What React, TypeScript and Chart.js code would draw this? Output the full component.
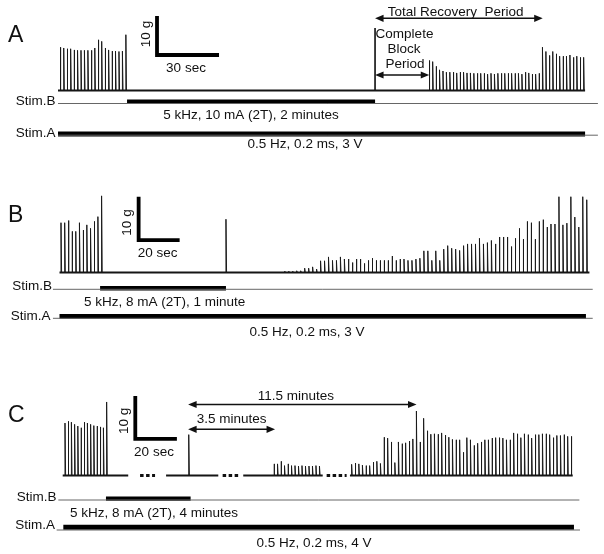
import { useEffect, useRef } from "react";
import { Chart, registerables } from "chart.js";
Chart.register(...registerables);

const W = 604;
const H = 554;

// ---------------- Panel A (time in s, force in g) ----------------
const A_BASELINE = [[0, 255]];
const A_PRE_START = 1.1;
const A_PRE_INTERVAL = 1.67;
const A_PRE_AMPS = [11.1, 10.9, 10.7, 10.7, 10.4, 10.3, 10.3, 10.3, 10.3, 10.3, 10.9, 13.0, 12.6, 10.9, 10.4, 10.1, 10.1, 10.0, 10.1, 14.3];
const A_REC_START = 179.6;
const A_REC_INTERVAL = 1.66;
const A_REC_AMPS = [7.7, 7.4, 6.2, 5.3, 5.0, 4.7, 4.7, 4.7, 4.5, 4.7, 4.7, 4.5, 4.5, 4.4, 4.4, 4.4, 4.4, 4.2, 4.4, 4.2, 4.4, 4.4, 4.4, 4.4, 4.4, 4.4, 4.4, 4.2, 4.7, 4.5, 4.2, 4.2, 4.4, 11.1, 10.0, 9.0, 10.0, 9.4, 8.8, 8.8, 8.8, 9.1, 8.5, 8.8, 8.5, 8.5];
const A_STIMB_ON = [33.4, 153.4];
const A_STIMB_LINE = [0, 261.2];
const A_STIMA_ON = [0, 255];
const A_STIMA_LINE = [0, 261.2];
const A_TOTAL_RECOVERY = [153.4, 234.5];
const A_COMPLETE_BLOCK = [153.4, 179.6];

// ---------------- Panel B ----------------
const B_BASELINE = [[0, 258.5]];
const B_PRE_START = 0.73;
const B_PRE_INTERVAL = 1.8;
const B_PRE_AMPS = [11.5, 11.5, 12.0, 9.5, 9.5, 11.5, 9.8, 11.0, 10.2, 11.8, 12.9, 17.7];
const B_SINGLE = [[81.2, 12.3]];
const B_REC_START = 109.9;
const B_REC_INTERVAL = 1.938;
const B_REC_AMPS = [
  0.3, 0.3, 0.3,
  0.4, 0.4, 1.0, 1.0, 1.3, 0.8, 2.7, 2.7, 3.6, 2.8, 2.8, 3.6, 3.1, 3.1, 2.3, 3.1, 3.1, 2.1, 2.8, 3.3, 2.8, 2.8, 2.8, 2.8, 3.8, 2.8, 3.1, 3.1, 2.8, 2.8, 3.1, 3.3, 5.0, 5.0, 2.8, 5.0, 2.8, 5.4,
  6.2, 5.6, 5.4, 5.1, 6.2, 6.6, 6.6, 6.6, 7.9, 6.6, 6.9, 7.4, 6.6, 8.2, 8.2, 8.2, 6.0, 7.9, 10.2, 7.7, 11.8, 11.5, 7.7, 11.8, 12.2, 10.5, 11.2, 11.2, 17.5, 11.0, 11.4, 17.5, 12.8, 10.5, 17.5, 16.8,
];
const B_STIMB_ON = [19.8, 81.2];
const B_STIMB_LINE = [-3.2, 260.1];
const B_STIMA_ON = [0, 256.8];
const B_STIMA_LINE = [-3.2, 260.1];

// ---------------- Panel C ----------------
const C_BASELINE = [[0, 31.5], [49.7, 74.8], [86.8, 125], [138.1, 245.2]];
const C_BREAKS = [[37.2, 44.4], [76.9, 85.2], [126.9, 136.5]];
const C_PRE_START = 1.1;
const C_PRE_INTERVAL = 1.54;
const C_PRE_AMPS = [12.2, 12.6, 12.4, 11.9, 11.5, 11.1, 12.4, 12.2, 11.9, 11.6, 11.5, 11.3, 11.1, 17.1];
const C_SINGLE = [[60.6, 9.5]];
const C_MID_START = 101.6;
const C_MID_INTERVAL = 1.68;
const C_MID_AMPS = [2.7, 2.7, 3.3, 2.3, 2.7, 2.3, 2.3, 2.2, 2.3, 2.2, 2.2, 2.2, 2.3, 2.2];
const C_REC_START = 138.9;
const C_REC_INTERVAL = 1.731;
const C_REC_AMPS = [
  2.6, 2.9, 2.7, 2.4, 2.3, 2.3, 3.1, 3.3, 2.8, 8.9, 8.7, 7.8, 3.0, 7.8, 7.4, 7.6, 8.0, 8.5, 15.0, 7.8,
  13.3, 10.4, 9.6, 9.7, 9.6, 9.9, 9.4, 8.9, 8.4, 8.3, 8.3, 5.4, 8.8, 8.3, 7.0, 7.5, 7.8, 8.3, 8.3, 8.7,
  8.8, 8.8, 8.7, 8.3, 8.3, 9.9, 9.7, 8.8, 9.7, 9.5, 8.7, 9.5, 9.5, 9.7, 9.7, 9.5, 8.8, 9.3, 9.3, 9.5,
  9.1, 9.1,
];
const C_STIMB_ON = [20.8, 61.5];
const C_STIMB_LINE = [-2.1, 248.4];
const C_STIMA_ON = [0.3, 245.8];
const C_STIMA_LINE = [-2.9, 248.7];
const C_LONG_ARROW = [60.3, 170.1];
const C_SHORT_ARROW = [60.3, 102.1];

// ---------------- Layout (pixels) ----------------
type Lay = { x0: number; pxs: number; base: number; pxg: number };
const LAYOUT: Record<string, Lay> = {
  A: { x0: 58, pxs: 2.067, base: 90.5, pxg: 3.9 },
  B: { x0: 59.5, pxs: 2.05, base: 272.5, pxg: 4.33 },
  C: { x0: 62.7, pxs: 2.08, base: 475.5, pxg: 4.3 },
};
const lvl = (p: string, py: number) => (LAYOUT[p].base - py) / LAYOUT[p].pxg;

const FONT = '"Liberation Sans", Arial, Helvetica, sans-serif';
const INK = "#111";

function train(start: number, interval: number, amps: number[]) {
  return amps.map((a, i) => [start + i * interval, a]);
}

const datasets: any[] = [];
function line(p: string, data: any[], width: number, color: string, dash: number[] = []) {
  datasets.push({
    data,
    xAxisID: "x" + p,
    yAxisID: "y" + p,
    borderColor: color,
    borderWidth: width,
    borderDash: dash,
    borderCapStyle: "butt",
    borderJoinStyle: "miter",
    pointRadius: 0,
    pointHoverRadius: 0,
    tension: 0,
    fill: false,
    spanGaps: false,
  });
}
function segs(list: number[][], y = 0) {
  const out: any[] = [];
  list.forEach(([a, b]) => {
    out.push({ x: a, y }, { x: b, y }, { x: b, y: null });
  });
  return out;
}
function spikeData(sp: number[][]) {
  const out: any[] = [];
  sp.forEach(([t, a]) => {
    out.push({ x: t, y: 0 }, { x: t, y: a }, { x: t + 0.3, y: 0 }, { x: t + 0.3, y: null });
  });
  return out;
}
function bar(p: string, span: number[], py: number, width: number, color: string) {
  const y = lvl(p, py);
  line(p, [{ x: span[0], y }, { x: span[1], y }], width, color);
}
function scaleBar(p: string, t0: number, v0: number, secs: number, grams: number) {
  line(p, [{ x: t0, y: v0 + grams }, { x: t0, y: v0 }, { x: t0 + secs, y: v0 }], 3.8, "#000");
}

// Panel A
line("A", segs(A_BASELINE), 2, "#151515");
line("A", spikeData([...train(A_PRE_START, A_PRE_INTERVAL, A_PRE_AMPS), ...train(A_REC_START, A_REC_INTERVAL, A_REC_AMPS)]), 1, "#1a1a1a");
bar("A", A_STIMB_LINE, 103.5, 1, "#666");
bar("A", A_STIMB_ON, 101.8, 4.5, "#000");
bar("A", A_STIMA_LINE, 135.2, 1, "#666");
bar("A", A_STIMA_ON, 134, 5, "#000");
scaleBar("A", 47.9, 9.1, 30, 10);
line("A", [{ x: A_TOTAL_RECOVERY[0], y: lvl("A", 28) }, { x: A_TOTAL_RECOVERY[0], y: 0 }], 1, "#222");

// Panel B
line("B", segs(B_BASELINE), 2, "#151515");
line("B", spikeData([...train(B_PRE_START, B_PRE_INTERVAL, B_PRE_AMPS), ...B_SINGLE, ...train(B_REC_START, B_REC_INTERVAL, B_REC_AMPS)]), 1, "#1a1a1a");
bar("B", B_STIMB_LINE, 289.3, 1, "#666");
bar("B", B_STIMB_ON, 288.3, 4.5, "#000");
bar("B", B_STIMA_LINE, 318.3, 1, "#666");
bar("B", B_STIMA_ON, 316.3, 4.8, "#000");
scaleBar("B", 38.6, 7.5, 20, 10);

// Panel C
line("C", segs(C_BASELINE), 2, "#151515");
line("C", segs(C_BREAKS), 3, "#111", [3.5, 2.5]);
line("C", spikeData([...train(C_PRE_START, C_PRE_INTERVAL, C_PRE_AMPS), ...C_SINGLE, ...train(C_MID_START, C_MID_INTERVAL, C_MID_AMPS), ...train(C_REC_START, C_REC_INTERVAL, C_REC_AMPS)]), 1, "#1a1a1a");
bar("C", C_STIMB_LINE, 500, 1, "#666");
bar("C", C_STIMB_ON, 498.7, 4.2, "#000");
bar("C", C_STIMA_LINE, 530, 1, "#666");
bar("C", C_STIMA_ON, 527.3, 5, "#000");
scaleBar("C", 34.9, 8.5, 20, 10);

const scales: any = {};
Object.keys(LAYOUT).forEach((p) => {
  const l = LAYOUT[p];
  const xmin = -l.x0 / l.pxs;
  const ymax = l.base / l.pxg;
  scales["x" + p] = { type: "linear", axis: "x", position: "bottom", display: false, min: xmin, max: xmin + W / l.pxs };
  scales["y" + p] = { type: "linear", axis: "y", position: "left", display: false, min: ymax - H / l.pxg, max: ymax };
});

type Txt = { s: string; x: number; y: number; f?: number; a?: CanvasTextAlign; rot?: boolean };
const TEXTS: Txt[] = [
  { s: "A", x: 8, y: 41.5, f: 23, a: "left" },
  { s: "10 g", x: 146, y: 34, rot: true },
  { s: "30 sec", x: 186, y: 71.7 },
  { s: "Stim.B", x: 55.5, y: 105, a: "right" },
  { s: "Stim.A", x: 55.5, y: 136.5, a: "right" },
  { s: "5 kHz, 10 mA (2T), 2 minutes", x: 251, y: 118.5 },
  { s: "0.5 Hz, 0.2 ms, 3 V", x: 305, y: 147.5 },
  { s: "Total Recovery  Period", x: 455.7, y: 16 },
  { s: "Complete", x: 404.5, y: 37.5 },
  { s: "Block", x: 404, y: 53 },
  { s: "Period", x: 405, y: 68 },

  { s: "B", x: 8, y: 221.7, f: 23, a: "left" },
  { s: "10 g", x: 127.5, y: 222.5, rot: true },
  { s: "20 sec", x: 157.7, y: 257 },
  { s: "Stim.B", x: 52, y: 290, a: "right" },
  { s: "Stim.A", x: 50.5, y: 320, a: "right" },
  { s: "5 kHz, 8 mA (2T), 1 minute", x: 164.7, y: 306 },
  { s: "0.5 Hz, 0.2 ms, 3 V", x: 307, y: 335.5 },

  { s: "C", x: 8, y: 421.5, f: 23, a: "left" },
  { s: "10 g", x: 124.2, y: 420.8, rot: true },
  { s: "20 sec", x: 154, y: 456 },
  { s: "Stim.B", x: 56.5, y: 501, a: "right" },
  { s: "Stim.A", x: 55, y: 529, a: "right" },
  { s: "5 kHz, 8 mA (2T), 4 minutes", x: 154, y: 516.5 },
  { s: "0.5 Hz, 0.2 ms, 4 V", x: 314, y: 546.5 },
  { s: "11.5 minutes", x: 295.8, y: 399.5 },
  { s: "3.5 minutes", x: 231.7, y: 423 },
];

const ARROWS = [
  { p: "A", span: A_TOTAL_RECOVERY, py: 18.3 },
  { p: "A", span: A_COMPLETE_BLOCK, py: 75 },
  { p: "C", span: C_LONG_ARROW, py: 404.5 },
  { p: "C", span: C_SHORT_ARROW, py: 429.3 },
];

const annotate = {
  id: "annotate",
  afterDatasetsDraw(chart: any) {
    const ctx = chart.ctx as CanvasRenderingContext2D;
    ctx.save();
    ctx.fillStyle = INK;
    ctx.strokeStyle = INK;
    ARROWS.forEach(({ p, span, py }) => {
      const sx = chart.scales["x" + p];
      const x0 = sx.getPixelForValue(span[0]);
      const x1 = sx.getPixelForValue(span[1]);
      const hl = 8.5, hw = 3.6;
      ctx.lineWidth = 1.4;
      ctx.beginPath();
      ctx.moveTo(x0 + hl - 1, py);
      ctx.lineTo(x1 - hl + 1, py);
      ctx.stroke();
      ctx.beginPath();
      ctx.moveTo(x0, py);
      ctx.lineTo(x0 + hl, py - hw);
      ctx.lineTo(x0 + hl, py + hw);
      ctx.closePath();
      ctx.fill();
      ctx.beginPath();
      ctx.moveTo(x1, py);
      ctx.lineTo(x1 - hl, py - hw);
      ctx.lineTo(x1 - hl, py + hw);
      ctx.closePath();
      ctx.fill();
    });
    TEXTS.forEach((t) => {
      ctx.font = `${t.f || 13.5}px ${FONT}`;
      if (t.rot) {
        ctx.save();
        ctx.translate(t.x, t.y);
        ctx.rotate(-Math.PI / 2);
        ctx.textAlign = "center";
        ctx.textBaseline = "middle";
        ctx.fillText(t.s, 0, 0);
        ctx.restore();
      } else {
        ctx.textAlign = t.a || "center";
        ctx.textBaseline = "alphabetic";
        ctx.fillText(t.s, t.x, t.y);
      }
    });
    ctx.restore();
  },
};

export default function App() {
  const ref = useRef<HTMLCanvasElement>(null);
  useEffect(() => {
    const chart = new Chart(ref.current as HTMLCanvasElement, {
      type: "line",
      data: { datasets },
      options: {
        responsive: false,
        animation: false,
        devicePixelRatio: 1,
        events: [],
        layout: { padding: 0 },
        parsing: true as any,
        plugins: { legend: { display: false }, tooltip: { enabled: false } },
        scales,
      } as any,
      plugins: [annotate],
    });
    return () => chart.destroy();
  }, []);
  return (
    <div style={{ position: "absolute", left: 0, top: 0, width: W, height: H, background: "#fff" }}>
      <canvas ref={ref} width={W} height={H} style={{ width: W, height: H, display: "block" }} />
    </div>
  );
}
